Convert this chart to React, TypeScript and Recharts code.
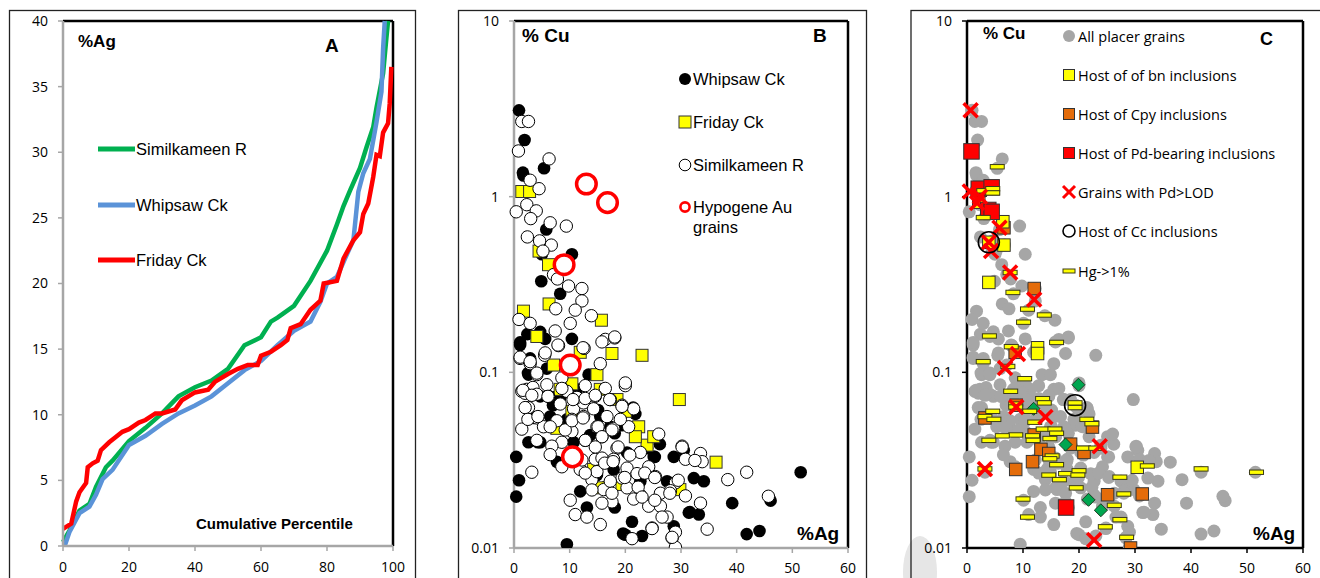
import React from 'react';
import { LineChart, Line, ScatterChart, Scatter, XAxis, YAxis, ReferenceLine } from 'recharts';

// ---- Panel A: cumulative percentile curves of %Ag
const simPct = [0, 2, 5, 8, 10, 13, 15, 20, 25, 30, 35, 40, 45, 50, 55, 60, 63, 65, 70, 75, 80, 83, 85, 87, 90, 92, 94, 95, 97, 98, 98.5];
const simAg = [0.3, 1.2, 2.7, 3.2, 4.5, 6.0, 6.5, 8.0, 9.0, 10.1, 11.4, 12.1, 12.6, 13.5, 15.3, 15.9, 17.1, 17.4, 18.3, 20.2, 22.5, 24.5, 25.9, 27.1, 28.8, 30.4, 31.9, 33.4, 36.0, 38.7, 40];
const whipPct = [0.5, 2, 5, 8, 10, 12, 15, 20, 25, 30, 35, 40, 45, 50, 55, 60, 65, 70, 75, 78, 80, 83, 86, 88, 89.5, 91, 93, 95, 96.5, 97, 97.5];
const whipAg = [0, 1.1, 2.5, 3.0, 3.9, 5.1, 5.8, 7.7, 8.4, 9.3, 10.1, 10.7, 11.4, 12.4, 13.4, 14.1, 15.3, 16.4, 17.1, 18.6, 20.0, 20.5, 22.2, 23.3, 27.0, 28.4, 29.5, 32.3, 34.6, 37.9, 40];
const friPct = [0, 2.5, 4, 5, 7, 7.5, 9, 10.5, 11.5, 14, 16, 18, 20, 23, 25, 28, 30, 34, 36, 40, 44, 46, 50, 53, 56, 59, 60, 63, 66, 68, 69, 72, 75, 78, 79, 83, 85, 88, 90, 91, 92.5, 94, 95, 96, 97, 98.5, 99, 99.5];
const friAg = [1.3, 1.7, 3.4, 4.1, 4.8, 6.0, 6.3, 6.5, 7.3, 7.9, 8.3, 8.7, 8.9, 9.4, 9.6, 10.1, 10.1, 10.4, 11.1, 11.7, 11.9, 12.5, 13.1, 13.5, 13.8, 13.8, 14.5, 14.8, 15.3, 15.7, 16.6, 16.9, 18.0, 18.7, 20.0, 20.2, 21.9, 23.3, 23.9, 25.3, 26.1, 28.1, 29.8, 29.7, 31.5, 32.2, 33.7, 36.5];

const pctTicks = [0, 20, 40, 60, 80, 100];
const agTicks = [0, 5, 10, 15, 20, 25, 30, 35, 40];
const xTicks60 = [0, 10, 20, 30, 40, 50, 60];
const cuTicks = [0.01, 0.1, 1, 10];

// ---- Panel B: %Ag vs %Cu, by river  ([Ag, Cu])
const whipsaw = [[0.9,3.1],[1.9,2.1],[1.7,1.32],[5.4,1.45],[1.6,1.37],[5.8,0.65],[10.4,0.47],[4.9,0.33],[8.3,0.28],[5,0.47],[2.4,0.165],[1.1,0.143],[4.7,0.17],[5.6,0.155],[10.4,0.155],[2.9,0.12],[2.6,0.097],[5.9,0.105],[13.4,0.097],[4.7,0.073],[7.1,0.072],[2.9,0.056],[6.5,0.056],[2.6,0.04],[4.7,0.04],[0.4,0.033],[0.9,0.0243],[0.4,0.0196],[13.1,0.017],[9.5,0.0105],[20,0.0119],[21.2,0.0141],[23,0.0117],[28.7,0.033],[28.7,0.0133],[31.4,0.0159],[33.2,0.0155],[34.1,0.024],[39.2,0.018],[41.8,0.012],[44.1,0.0125],[46.1,0.0186],[51.5,0.027],[21.8,0.058],[15.5,0.056],[17.3,0.049],[17.9,0.028],[14.9,0.026],[23.9,0.037],[25.1,0.033],[27.5,0.024],[11.9,0.021],[10.7,0.04],[7.7,0.031],[8.3,0.072],[11.3,0.08],[9.5,0.054],[13.7,0.044],[19.4,0.05],[20.3,0.035],[22.7,0.024],[30.5,0.036],[32.3,0.025],[1.1,0.148],[2.5,0.099],[3.4,0.055],[4.3,0.04],[7,0.065],[10.6,0.072],[15.1,0.061],[18.1,0.045],[21.4,0.063],[25.3,0.033],[26.2,0.039],[14.6,0.029],[16.3,0.0222],[18.1,0.017],[19.6,0.0121],[31.6,0.016]];
const friday = [[1.4,1.07],[2.8,1.07],[4.5,0.49],[6.2,0.41],[1.7,0.223],[6.3,0.245],[4.1,0.16],[15.7,0.198],[17.6,0.128],[23,0.125],[14.9,0.097],[11.9,0.13],[7.1,0.11],[10.4,0.086],[29.7,0.07],[36.3,0.0308],[22.4,0.049],[23.9,0.0385],[25.1,0.043],[18.5,0.07],[20,0.06],[8.3,0.08],[15.5,0.08],[7.7,0.048],[14.3,0.028],[15.8,0.022],[19.4,0.023],[29.8,0.0215],[21.8,0.043],[10.4,0.06]];
const similkameen = [[1.4,2.68],[2.6,2.68],[6.3,1.64],[0.8,1.82],[2.9,1.24],[4.5,1.11],[2.3,0.9],[0.4,0.82],[4.0,0.83],[3.0,0.75],[6.5,0.71],[9.4,0.68],[2.4,0.59],[4.6,0.56],[6.7,0.53],[5.2,0.49],[7.1,0.36],[7.8,0.34],[9.8,0.31],[12.2,0.3],[12.2,0.255],[11,0.226],[7.5,0.23],[13.9,0.21],[0.9,0.2],[2.9,0.19],[10.1,0.19],[7.4,0.172],[16.4,0.154],[18.1,0.157],[8,0.142],[12.6,0.137],[1.1,0.12],[2.9,0.112],[5.5,0.125],[15.5,0.112],[4.1,0.097],[8.6,0.093],[1.4,0.078],[2.3,0.08],[3.4,0.082],[6.2,0.073],[12.8,0.084],[16.4,0.081],[20,0.084],[2.6,0.063],[4.1,0.055],[1.4,0.0475],[4.1,0.041],[8.3,0.066],[10.7,0.062],[12.5,0.067],[14.6,0.073],[17.3,0.07],[19.4,0.065],[21.5,0.062],[10.4,0.054],[12.5,0.056],[14.9,0.049],[17.9,0.048],[20.6,0.049],[26,0.0445],[10.4,0.046],[8.6,0.04],[12.8,0.041],[15.8,0.043],[18.5,0.037],[6.8,0.038],[14.6,0.032],[17.9,0.032],[15.8,0.0325],[20.3,0.0285],[22.1,0.0265],[24.2,0.029],[25.4,0.0255],[30.2,0.038],[30.8,0.032],[33.5,0.0345],[33.8,0.031],[29,0.0235],[30.8,0.0198],[33.5,0.018],[38.4,0.0245],[41.8,0.027],[45.7,0.0197],[3.2,0.027],[10.1,0.0187],[11,0.0155],[13.1,0.015],[15.5,0.0136],[14,0.0245],[16.1,0.0215],[17.6,0.0183],[19.4,0.025],[22.7,0.02],[24.2,0.0173],[21.5,0.019],[21.2,0.0113],[24.8,0.013],[26.3,0.0173],[28.1,0.0212],[28.4,0.0114],[29,0.0101],[29,0.0123],[34.7,0.0128],[27.5,0.015],[20.3,0.022],[17.3,0.024],[14.9,0.0272],[11.9,0.028],[8.6,0.029],[22.7,0.035],[26.3,0.0205],[9.5,0.078],[11.3,0.072],[14.3,0.062],[16.7,0.056],[19.1,0.054],[7.7,0.053],[5.3,0.049],[6.5,0.034],[4.1,0.075],[2,0.076],[20,0.087],[30.2,0.0375],[32.5,0.0315],
  [1.1,0.122],[2.9,0.115],[4.1,0.099],[7.9,0.143],[12.4,0.138],[15.8,0.149],[18.1,0.159],[5.6,0.129],[1.6,0.079],[3.2,0.074],[5.9,0.085],[6.1,0.073],[8.6,0.081],[10.6,0.07],[12.8,0.071],[14.6,0.074],[17.2,0.07],[19.4,0.064],[2,0.063],[2.5,0.054],[4.3,0.056],[6.5,0.049],[9.2,0.047],[10.4,0.053],[12.4,0.055],[12.8,0.041],[15.1,0.049],[17.6,0.047],[15.8,0.043],[18.7,0.0376],[20.8,0.0338],[14.6,0.0376],[12.2,0.0317],[16.3,0.0304],[17.8,0.031],[19.9,0.0252],[22.3,0.0222],[23.5,0.0267],[25.3,0.0252],[28,0.0205],[29.5,0.0243],[25.3,0.0187],[15.8,0.018],[17.6,0.0205],[14,0.0214],[12.8,0.0267],[23,0.0195],[26.6,0.015],[28.4,0.0115],[24.8,0.0129]];
const hypogene = [[13,1.18],[16.8,0.925],[9,0.41],[10.1,0.11],[10.5,0.033]];

// ---- Panel C: inclusion hosts
const pdLod = [[0.65,3.1],[0.5,1.07],[1.8,0.92],[3.9,0.55],[4.3,0.49],[5.8,0.665],[7.7,0.37],[12,0.26],[9.1,0.127],[6.8,0.106],[8.8,0.0635],[14,0.0557],[23.7,0.038],[3.2,0.0282],[22.7,0.0111],[2.3,1.0]];
const pdHost = [[0.8,1.81],[2.1,1.11],[4.4,1.13],[3.8,0.84],[4.4,0.82],[17.7,0.017]];
const bnHost = [[3.9,0.325],[6.6,0.53],[6.4,0.72],[2.1,0.93],[12.6,0.138],[12.6,0.128],[30.4,0.0288],[3.9,0.55]];
const cpyHost = [[6.6,0.665],[12,0.3],[8.6,0.13],[3.2,0.055],[8.8,0.065],[12,0.044],[13.2,0.0364],[14.6,0.0345],[18.5,0.039],[20.9,0.035],[22.4,0.0488],[8.7,0.028],[11.7,0.031],[25.1,0.0201],[31.3,0.0203],[29.2,0.01]];
const otherHost = [[19.9,0.085],[11.9,0.062],[17.6,0.0388],[21.7,0.0188],[23.9,0.0164]];
const ccHost = [[3.9,0.55],[19.3,0.065]];
const hgHigh = [[5.4,1.48],[3.0,1.08],[4.6,1.11],[4.6,1.05],[2.9,0.76],[7.7,0.37],[8.2,0.285],[10.8,0.229],[13.8,0.212],[10.1,0.193],[4.0,0.161],[16.0,0.148],[7.9,0.14],[2.9,0.115],[7.3,0.108],[10.3,0.092],[7.8,0.078],[13.5,0.0708],[13.8,0.067],[8.7,0.066],[4.6,0.06],[3.2,0.056],[4.8,0.054],[19.3,0.067],[19.3,0.063],[21.4,0.054],[22.3,0.051],[11.2,0.06],[12.1,0.052],[13.6,0.0475],[15.7,0.0475],[16.0,0.045],[8.7,0.044],[6.3,0.0435],[3.9,0.041],[11.7,0.0435],[11.8,0.041],[14.8,0.042],[15.2,0.0334],[14.8,0.0322],[16.0,0.0298],[14.6,0.026],[16.5,0.0245],[17.6,0.0265],[20.0,0.0275],[19.5,0.022],[19.8,0.026],[20.8,0.037],[23.0,0.037],[27.3,0.0253],[28.0,0.0203],[26.3,0.0175],[27.3,0.0145],[24.7,0.0132],[28.5,0.0115],[10.0,0.019],[10.8,0.015],[3.2,0.0282],[32.2,0.0293],[41.8,0.0282],[51.7,0.027],[8.7,0.0635]];

const GRAY = '#A6A6A6';
const ARIAL = 'Liberation Sans, Arial, sans-serif';
const TICKFONT = 'Open Sans, sans-serif';

const curve = (p: number[], v: number[]) => p.map((x, i) => ({ p: x, v: v[i] }));
const pts = (a: number[][]) => a.map(([x, y]) => ({ x, y }));
const allPlacer = [...whipsaw, ...friday, ...similkameen];

const dot = (r: number, fill: string, stroke = 'none', sw = 1) => (p: any) => (
  <circle cx={p.cx} cy={p.cy} r={r} fill={fill} stroke={stroke} strokeWidth={sw} />
);
const sq = (s: number, fill: string, stroke = '#333') => (p: any) => (
  <rect x={p.cx - s / 2} y={p.cy - s / 2} width={s} height={s} fill={fill} stroke={stroke} strokeWidth={1} />
);
const dash = (p: any) => (
  <rect x={p.cx - 7} y={p.cy - 2.2} width={14} height={4.4} fill="#FFFF00" stroke="#3a3a1a" strokeWidth={1} />
);
const diamond = (p: any) => (
  <path d={`M${p.cx},${p.cy - 6.5}L${p.cx + 6.5},${p.cy}L${p.cx},${p.cy + 6.5}L${p.cx - 6.5},${p.cy}Z`} fill="#00A650" stroke="#1d3d22" strokeWidth={1} />
);
const cross = (p: any) => (
  <g stroke="#FF0000" strokeWidth={3.5}>
    <line x1={p.cx - 7} y1={p.cy - 7} x2={p.cx + 7} y2={p.cy + 7} />
    <line x1={p.cx - 7} y1={p.cy + 7} x2={p.cx + 7} y2={p.cy - 7} />
  </g>
);

const tickStyle = { fill: '#000', fontSize: 14, fontFamily: TICKFONT };

function PanelA() {
  return (
    <LineChart width={420} height={578} margin={{ top: 21, right: 27, left: 13, bottom: 2 }}>
      <XAxis type="number" dataKey="p" domain={[0, 100]} ticks={pctTicks} height={30} tickSize={5} tickMargin={11}
        axisLine={{ stroke: GRAY, strokeWidth: 2.5 }} tickLine={{ stroke: GRAY, strokeWidth: 1.5 }} tick={tickStyle} />
      <YAxis type="number" domain={[0, 40]} ticks={agTicks} width={50} tickSize={5} tickMargin={10}
        axisLine={{ stroke: GRAY, strokeWidth: 2.5 }} tickLine={{ stroke: GRAY, strokeWidth: 1.5 }} tick={tickStyle} />
      <ReferenceLine y={40} stroke="#000" strokeWidth={2.5} />
      <ReferenceLine x={100} stroke="#000" strokeWidth={2.5} />
      <Line data={curve(simPct, simAg)} dataKey="v" stroke="#00B050" strokeWidth={4.5} dot={false} isAnimationActive={false} />
      <Line data={curve(whipPct, whipAg)} dataKey="v" stroke="#5B93D8" strokeWidth={4.5} dot={false} isAnimationActive={false} />
      <Line data={curve(friPct, friAg)} dataKey="v" stroke="#FF0000" strokeWidth={4.5} dot={false} isAnimationActive={false} />
    </LineChart>
  );
}

function PanelB() {
  return (
    <ScatterChart width={430} height={578} margin={{ top: 21, right: 22, left: 24, bottom: 0 }}>
      <XAxis type="number" dataKey="x" domain={[0, 60]} ticks={xTicks60} height={30} tickSize={5} tickMargin={10}
        axisLine={{ stroke: GRAY, strokeWidth: 2.5 }} tickLine={{ stroke: GRAY, strokeWidth: 1.5 }} tick={tickStyle} />
      <YAxis type="number" dataKey="y" scale="log" domain={[0.01, 10]} allowDataOverflow ticks={cuTicks} width={50}
        tickSize={5} tickMargin={10} tickFormatter={(v: number) => String(v)}
        axisLine={{ stroke: GRAY, strokeWidth: 2.5 }} tickLine={{ stroke: GRAY, strokeWidth: 1.5 }} tick={tickStyle} />
      <ReferenceLine y={10} stroke="#000" strokeWidth={2.5} />
      <ReferenceLine x={60} stroke="#000" strokeWidth={2.5} />
      <Scatter data={pts(whipsaw)} shape={dot(6.3, '#000')} isAnimationActive={false} />
      <Scatter data={pts(friday)} shape={sq(12, '#FFFF00')} isAnimationActive={false} />
      <Scatter data={pts(similkameen)} shape={dot(6.2, '#fff', '#000', 1)} isAnimationActive={false} />
      <Scatter data={pts(hypogene)} shape={dot(9.8, '#fff', '#FF0000', 3.5)} isAnimationActive={false} />
    </ScatterChart>
  );
}

function PanelC() {
  const axis = { stroke: '#000', strokeWidth: 2.5 };
  return (
    <ScatterChart width={430} height={578} margin={{ top: 21, right: 17, left: 27, bottom: 0 }}>
      <XAxis type="number" dataKey="x" domain={[0, 60]} ticks={xTicks60} height={30} tickSize={5} tickMargin={10}
        axisLine={axis} tickLine={{ stroke: '#000', strokeWidth: 1.5 }} tick={tickStyle} />
      <YAxis type="number" dataKey="y" scale="log" domain={[0.01, 10]} allowDataOverflow ticks={cuTicks} width={50}
        tickSize={5} tickMargin={10} tickFormatter={(v: number) => String(v)}
        axisLine={axis} tickLine={{ stroke: '#000', strokeWidth: 1.5 }} tick={tickStyle} />
      <ReferenceLine y={10} stroke="#000" strokeWidth={2.5} />
      <ReferenceLine x={60} stroke="#000" strokeWidth={2.5} />
      <Scatter data={pts(allPlacer)} shape={dot(6.5, GRAY)} isAnimationActive={false} />
      <Scatter data={pts(cpyHost)} shape={sq(12.5, '#E46C0A')} isAnimationActive={false} />
      <Scatter data={pts(bnHost)} shape={sq(12.5, '#FFFF00')} isAnimationActive={false} />
      <Scatter data={pts(pdHost)} shape={sq(15.5, '#FF0000')} isAnimationActive={false} />
      <Scatter data={pts(otherHost)} shape={diamond} isAnimationActive={false} />
      <Scatter data={pts(hgHigh)} shape={dash} isAnimationActive={false} />
      <Scatter data={pts(pdLod)} shape={cross} isAnimationActive={false} />
      <Scatter data={pts(ccHost)} shape={dot(10.5, 'none', '#000', 1.6)} isAnimationActive={false} />
    </ScatterChart>
  );
}

function Overlay() {
  const lg = { fontFamily: ARIAL, fontSize: 16.5, fill: '#000', dominantBaseline: 'central' as const };
  const lc = { fontFamily: TICKFONT, fontSize: 14.5, fill: '#000', dominantBaseline: 'central' as const };
  const bold = (size: number) => ({ fontFamily: ARIAL, fontSize: size, fontWeight: 700, fill: '#000', dominantBaseline: 'central' as const });
  const cRows = [36, 75, 114, 153, 192, 231, 271];
  return (
    <svg width={1320} height={578} style={{ position: 'absolute', left: 0, top: 0, pointerEvents: 'none' }}>
      {/* panel frames */}
      <rect x={9.5} y={10.5} width={406} height={620} fill="none" stroke="#222" strokeWidth={1.3} />
      <rect x={458.5} y={10.5} width={408} height={620} fill="none" stroke="#222" strokeWidth={1.3} />
      <rect x={911} y={10.5} width={430} height={620} fill="none" stroke="#222" strokeWidth={1.3} />

      {/* A */}
      <text x={78} y={41} {...bold(17)}>%Ag</text>
      <text x={325} y={45} {...bold(19)}>A</text>
      <text x={196} y={523} {...bold(15)}>Cumulative Percentile</text>
      <line x1={98} y1={149} x2={135} y2={149} stroke="#00B050" strokeWidth={5} />
      <line x1={98} y1={205} x2={135} y2={205} stroke="#5B93D8" strokeWidth={5} />
      <line x1={98} y1={260} x2={135} y2={260} stroke="#FF0000" strokeWidth={5} />
      <text x={136} y={149} {...lg}>Similkameen R</text>
      <text x={136} y={205} {...lg}>Whipsaw Ck</text>
      <text x={136} y={260} {...lg}>Friday Ck</text>

      {/* B */}
      <text x={522} y={35} {...bold(19)}>% Cu</text>
      <text x={813} y={35} {...bold(19)}>B</text>
      <text x={797} y={533} {...bold(19)}>%Ag</text>
      <circle cx={685} cy={79} r={6} fill="#000" />
      <rect x={679} y={116} width={12} height={12} fill="#FFFF00" stroke="#333" />
      <circle cx={685} cy={165} r={5.8} fill="#fff" stroke="#000" />
      <circle cx={685} cy={207} r={4.6} fill="#fff" stroke="#FF0000" strokeWidth={2.6} />
      <text x={693} y={79} {...lg}>Whipsaw Ck</text>
      <text x={693} y={122} {...lg}>Friday Ck</text>
      <text x={693} y={165} {...lg}>Similkameen R</text>
      <text x={693} y={207} {...lg}>Hypogene Au</text>
      <text x={693} y={227} {...lg}>grains</text>

      {/* C */}
      <text x={983} y={33} {...bold(17)}>% Cu</text>
      <text x={1260} y={39} {...bold(18)}>C</text>
      <text x={1253} y={533} {...bold(19)}>%Ag</text>
      <circle cx={1069} cy={cRows[0]} r={6} fill={GRAY} />
      <rect x={1063.5} y={cRows[1] - 5.5} width={11} height={11} fill="#FFFF00" stroke="#333" />
      <rect x={1063.5} y={cRows[2] - 5.5} width={11} height={11} fill="#E46C0A" stroke="#333" />
      <rect x={1063.5} y={cRows[3] - 5.5} width={11} height={11} fill="#FF0000" stroke="#333" />
      <g stroke="#FF0000" strokeWidth={3}>
        <line x1={1063} y1={cRows[4] - 6} x2={1075} y2={cRows[4] + 6} />
        <line x1={1063} y1={cRows[4] + 6} x2={1075} y2={cRows[4] - 6} />
      </g>
      <circle cx={1069} cy={cRows[5]} r={6} fill="none" stroke="#000" strokeWidth={1.6} />
      <rect x={1063} y={cRows[6] - 2} width={12} height={4} fill="#FFFF00" stroke="#3a3a1a" />
      {['All placer grains', 'Host of of bn inclusions', 'Host of Cpy inclusions', 'Host of Pd-bearing inclusions',
        'Grains with Pd>LOD', 'Host of Cc inclusions', 'Hg->1%'].map((t, i) => (
        <text key={t} x={1078} y={cRows[i]} {...lc}>{t}</text>
      ))}
    </svg>
  );
}

export default function App() {
  return (
    <div style={{ position: 'relative', width: 1320, height: 578, background: '#fff', overflow: 'hidden' }}>
      <style>{'body{margin:0}'}</style>
      {/* faint grey smudge behind panel C's lower-left corner */}
      <svg width={1320} height={578} style={{ position: 'absolute', left: 0, top: 0 }}>
        <ellipse cx={920} cy={572} rx={17} ry={36} fill="#e6e6e6" />
      </svg>
      <div style={{ position: 'absolute', left: 0, top: 0 }}><PanelA /></div>
      <div style={{ position: 'absolute', left: 440, top: 0 }}><PanelB /></div>
      <div style={{ position: 'absolute', left: 890, top: 0 }}><PanelC /></div>
      <Overlay />
    </div>
  );
}
